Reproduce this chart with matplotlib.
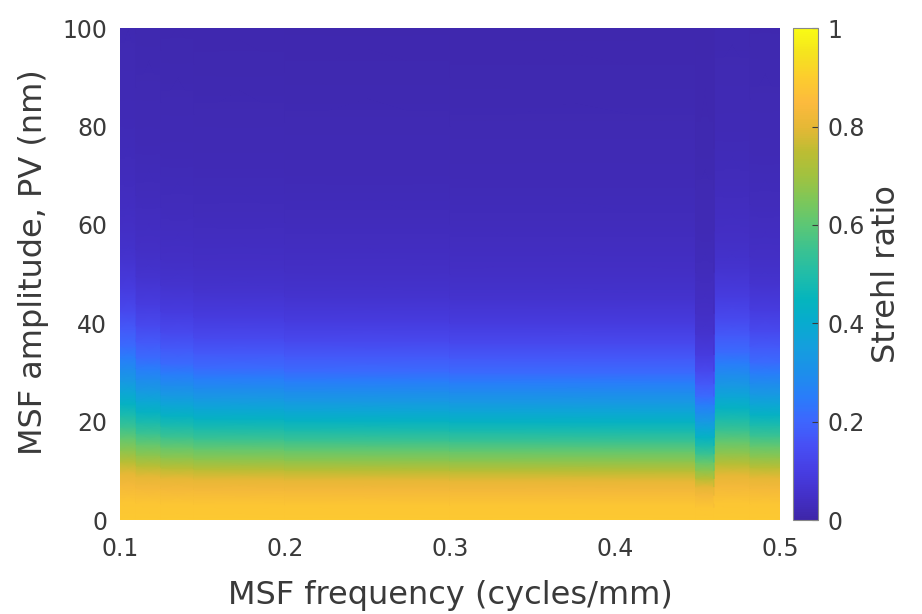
import numpy as np
import matplotlib
matplotlib.use("Agg")
import matplotlib.pyplot as plt
from matplotlib.colors import LinearSegmentedColormap

# ---------------- data ----------------
# Strehl ratio vs MSF amplitude (PV, nm) for the reference column
amplitude_nm = [0, 3, 6, 8, 10, 12, 14, 16, 18, 20, 22, 24, 26, 28, 30,
                33, 36, 40, 45, 50, 60, 70, 80, 90, 100]
strehl_profile = [0.89, 0.88, 0.83, 0.80, 0.74, 0.67, 0.61, 0.55, 0.49, 0.43,
                  0.38, 0.33, 0.29, 0.25, 0.21, 0.17, 0.13, 0.09, 0.06,
                  0.045, 0.03, 0.02, 0.016, 0.013, 0.011]

# frequency columns (cycles/mm): edges and how far up (relative) the
# Strehl fall-off sits in each column
freq_edges = [0.100, 0.110, 0.125, 0.145, 0.200, 0.300, 0.449, 0.460, 0.482, 0.500]
column_stretch = [1.18, 1.10, 1.06, 1.03, 1.01, 1.00, 0.84, 1.14, 1.07]

x_ticks = [0.1, 0.2, 0.3, 0.4, 0.5]
x_ticklabels = ["0.1", "0.2", "0.3", "0.4", "0.5"]
y_ticks = [0, 20, 40, 60, 80, 100]
cbar_ticks = [0, 0.2, 0.4, 0.6, 0.8, 1]
cbar_ticklabels = ["0", "0.2", "0.4", "0.6", "0.8", "1"]

# ---------------- parula-like colormap ----------------
parula_anchors = [
    (0.00, (0.2422, 0.1504, 0.6603)),
    (0.05, (0.2640, 0.1900, 0.7900)),
    (0.10, (0.2780, 0.2430, 0.8900)),
    (0.15, (0.2800, 0.3100, 0.9600)),
    (0.20, (0.2400, 0.4000, 0.9950)),
    (0.25, (0.1600, 0.4900, 0.9800)),
    (0.30, (0.1100, 0.5600, 0.9200)),
    (0.35, (0.0800, 0.6200, 0.8700)),
    (0.40, (0.0300, 0.6700, 0.8100)),
    (0.45, (0.0200, 0.7100, 0.7400)),
    (0.50, (0.1300, 0.7400, 0.6600)),
    (0.55, (0.2300, 0.7600, 0.5700)),
    (0.60, (0.3600, 0.7800, 0.4600)),
    (0.65, (0.4900, 0.7800, 0.3500)),
    (0.70, (0.6300, 0.7600, 0.2500)),
    (0.75, (0.7400, 0.7400, 0.2000)),
    (0.80, (0.9000, 0.7200, 0.2100)),
    (0.85, (0.9900, 0.7300, 0.2400)),
    (0.90, (0.9900, 0.8000, 0.1800)),
    (0.95, (0.9600, 0.8900, 0.1200)),
    (1.00, (0.9769, 0.9839, 0.0805)),
]
parula = LinearSegmentedColormap.from_list("parula", parula_anchors, N=256)

# ---------------- build mesh ----------------
prof = np.array(strehl_profile)
amp = np.array(amplitude_nm, dtype=float)
fe = np.array(freq_edges)
eps = 1e-6
X_cols, Y_cols = [], []
for i, st in enumerate(column_stretch):
    for xv in (fe[i], fe[i + 1] - eps):
        X_cols.append(np.full_like(amp, xv))
        yc = amp * st
        yc[-1] = max(yc[-1], 100.0)
        Y_cols.append(yc)
X = np.column_stack(X_cols)
Y = np.column_stack(Y_cols)
Z = np.repeat(prof[:, None], X.shape[1], axis=1)

plt.rcParams["font.family"] = ["DejaVu Sans"]
txt = "#3a3a3a"
fig = plt.figure(figsize=(9.22, 6.14), dpi=100)
ax = fig.add_axes([0.130, 0.153, 0.716, 0.801])
mesh = ax.pcolormesh(X, Y, Z, cmap=parula, vmin=0, vmax=1,
                     shading="gouraud", rasterized=True)
ax.set_xlim(0.1, 0.5)
ax.set_ylim(0, 100)
for s in ax.spines.values():
    s.set_visible(False)
ax.set_xticks(x_ticks)
ax.set_xticklabels(x_ticklabels)
ax.set_yticks(y_ticks)
ax.tick_params(length=0, labelsize=17, colors=txt)
ax.tick_params(axis="x", pad=12)
ax.tick_params(axis="y", pad=9)
ax.set_xlabel("MSF frequency (cycles/mm)", fontsize=23, color=txt, labelpad=14)
ax.set_ylabel("MSF amplitude, PV (nm)", fontsize=23, color=txt, labelpad=12)
ax.yaxis.set_label_coords(-0.108, 0.525)

cax = fig.add_axes([0.860, 0.153, 0.027, 0.801])
cb = fig.colorbar(mesh, cax=cax, ticks=cbar_ticks)
cb.ax.set_yticklabels(cbar_ticklabels)
cb.outline.set_edgecolor("#888888")
cb.outline.set_linewidth(0.8)
cb.ax.tick_params(direction="in", length=4, width=0.8, colors=txt,
                  labelsize=17, pad=7)
cb.set_label("Strehl ratio", fontsize=23, color=txt, labelpad=4)

fig.savefig("out.png", dpi=100)
